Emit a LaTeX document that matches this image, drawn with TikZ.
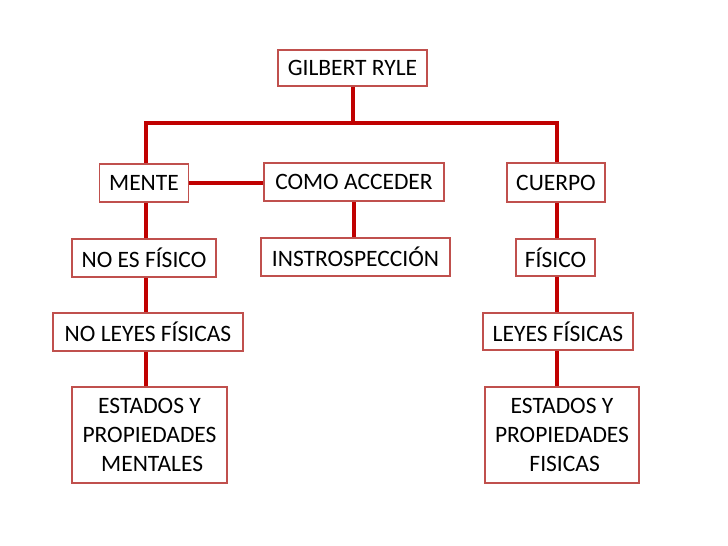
\documentclass[tikz,border=0pt]{standalone}
\usepackage{fontspec}
\setmainfont{Carlito}
\usetikzlibrary{backgrounds}
\definecolor{linered}{RGB}{192,0,0}
\definecolor{boxred}{RGB}{192,80,77}
\tikzset{
  box/.style={draw=boxred, line width=1.5pt, fill=white, inner sep=0pt, align=center,
    font=\fontsize{23.5}{29}\selectfont},
  conn/.style={draw=linered, line width=4pt},
}
\begin{document}
\begin{tikzpicture}[x=1pt,y=-1pt]
\useasboundingbox (0,0) rectangle (728,546);
\coordinate (lx) at (146,0);
\coordinate (cx) at (354,0);
\coordinate (rx) at (557,0);
\coordinate (barL) at (146,123);
\coordinate (barR) at (557,123);

\node[box, minimum width=149pt, minimum height=36pt] (gr) at (352.5,68) {GILBERT RYLE};
\node[box, minimum width=89pt, minimum height=38pt] (mente) at (144,183) {MENTE};
\node[box, minimum width=180pt, minimum height=38pt] (como) at (354,182) {COMO ACCEDER};
\node[box, minimum width=98pt, minimum height=39pt] (cuerpo) at (556,182.5) {CUERPO};
\node[box, minimum width=144pt, minimum height=38pt] (noes) at (144,258) {NO ES FÍSICO};
\node[box, minimum width=189pt, minimum height=38pt] (instro) at (355.5,257) {INSTROSPECCIÓN};
\node[box, minimum width=79pt, minimum height=37pt] (fisico) at (555.5,257.5) {FÍSICO};
\node[box, minimum width=190pt, minimum height=38pt] (noleyes) at (148,332) {NO LEYES FÍSICAS};
\node[box, minimum width=150pt, minimum height=37pt] (leyes) at (558,331.5) {LEYES FÍSICAS};
\node[box, minimum width=155pt, minimum height=96pt] (estm) at (149.5,435) {ESTADOS Y\\PROPIEDADES\\\ MENTALES};
\node[box, minimum width=154pt, minimum height=96pt] (estf) at (562,435) {ESTADOS Y\\PROPIEDADES\\\ FISICAS};

\begin{pgfonlayer}{background}
\draw[conn] (gr.center) -- (gr.center |- barL);
\draw[conn] (lx |- mente.center) -- (barL) -- (barR) -- (rx |- cuerpo.center);
\draw[conn] (mente.center) -- (como.center |- mente.center);
\draw[conn] (cx |- como.center) -- (cx |- instro.center);
\draw[conn] (lx |- mente.center) -- (lx |- noes.center);
\draw[conn] (lx |- noes.center) -- (lx |- noleyes.center);
\draw[conn] (lx |- noleyes.center) -- (lx |- estm.center);
\draw[conn] (rx |- cuerpo.center) -- (rx |- fisico.center);
\draw[conn] (rx |- fisico.center) -- (rx |- leyes.center);
\draw[conn] (rx |- leyes.center) -- (rx |- estf.center);
\end{pgfonlayer}
\end{tikzpicture}
\end{document}
